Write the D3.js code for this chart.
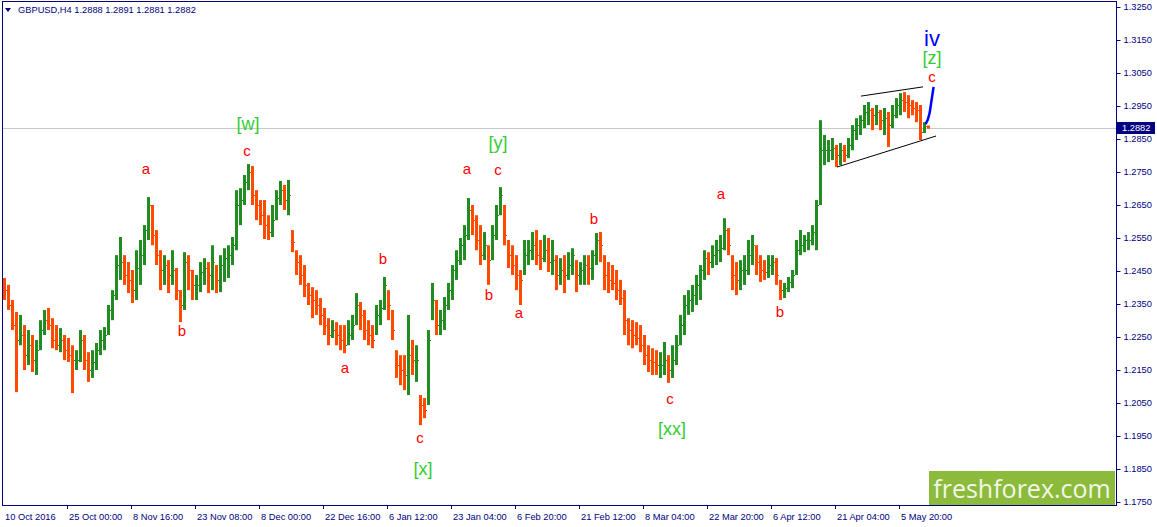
<!DOCTYPE html>
<html><head><meta charset="utf-8">
<script src="https://cdn.jsdelivr.net/npm/d3@7"></script>
<style>body{margin:0;background:#fff;overflow:hidden}svg{display:block}</style>
</head><body>
<script>
// ---- data (H4 bars aggregated 4 bars per point) ----
const highs=[1.2429,1.2408,1.2362,1.2326,1.2317,1.2286,1.2271,1.2256,1.2241,1.2301,
1.2332,1.2338,1.2307,1.2286,1.2277,1.2256,1.2247,1.2225,1.2210,1.2271,
1.2256,1.2204,1.2210,1.2232,1.2271,1.2280,1.2347,1.2392,1.2498,1.2553,
1.2498,1.2477,1.2453,1.2513,1.2544,1.2589,1.2674,1.2650,1.2574,1.2513,
1.2498,1.2483,1.2513,1.2459,1.2392,1.2507,1.2498,1.2453,1.2438,1.2477,
1.2489,1.2477,1.2528,1.2468,1.2498,1.2519,1.2528,1.2553,1.2695,1.2701,
1.2741,1.2774,1.2768,1.2695,1.2665,1.2665,1.2619,1.2650,1.2695,1.2723,
1.2711,1.2726,1.2574,1.2513,1.2498,1.2468,1.2414,1.2401,1.2392,1.2368,
1.2338,1.2307,1.2301,1.2295,1.2286,1.2286,1.2301,1.2317,1.2383,1.2356,
1.2332,1.2301,1.2286,1.2347,1.2362,1.2432,1.2392,1.2332,1.2210,1.2195,
1.2195,1.2317,1.2241,1.2225,1.2074,1.2065,1.2271,1.2414,1.2362,1.2332,
1.2371,1.2414,1.2468,1.2513,1.2550,1.2589,1.2671,1.2650,1.2619,1.2589,
1.2568,1.2528,1.2589,1.2650,1.2704,1.2650,1.2544,1.2528,1.2498,1.2453,
1.2544,1.2544,1.2568,1.2574,1.2544,1.2559,1.2550,1.2544,1.2498,1.2489,
1.2498,1.2507,1.2519,1.2483,1.2477,1.2498,1.2498,1.2513,1.2565,1.2568,
1.2498,1.2477,1.2468,1.2453,1.2423,1.2392,1.2307,1.2301,1.2295,1.2286,
1.2256,1.2225,1.2216,1.2210,1.2204,1.2235,1.2195,1.2225,1.2256,1.2317,
1.2377,1.2392,1.2408,1.2438,1.2468,1.2513,1.2507,1.2528,1.2544,1.2559,
1.2610,1.2580,1.2498,1.2477,1.2483,1.2498,1.2544,1.2559,1.2528,1.2498,
1.2483,1.2498,1.2498,1.2489,1.2423,1.2414,1.2432,1.2453,1.2544,1.2574,
1.2559,1.2568,1.2589,1.2665,1.2907,1.2862,1.2847,1.2853,1.2832,1.2838,
1.2832,1.2853,1.2892,1.2913,1.2922,1.2953,1.2962,1.2944,1.2953,1.2938,
1.2944,1.2932,1.2953,1.2974,1.2989,1.2992,1.2983,1.2968,1.2962,1.2953,
1.2901,1.2891];
const lows=[1.2362,1.2332,1.2271,1.2083,1.2225,1.2150,1.2165,1.2144,1.2135,1.2210,
1.2256,1.2271,1.2216,1.2210,1.2204,1.2180,1.2174,1.2080,1.2150,1.2174,
1.2150,1.2114,1.2126,1.2150,1.2195,1.2210,1.2256,1.2301,1.2362,1.2423,
1.2408,1.2383,1.2353,1.2362,1.2408,1.2468,1.2544,1.2528,1.2468,1.2392,
1.2408,1.2383,1.2408,1.2362,1.2295,1.2332,1.2392,1.2362,1.2362,1.2386,
1.2408,1.2383,1.2392,1.2383,1.2386,1.2417,1.2429,1.2468,1.2513,1.2589,
1.2650,1.2695,1.2650,1.2604,1.2589,1.2547,1.2544,1.2553,1.2604,1.2650,
1.2635,1.2619,1.2507,1.2438,1.2408,1.2371,1.2347,1.2307,1.2317,1.2286,
1.2256,1.2225,1.2247,1.2225,1.2210,1.2201,1.2225,1.2241,1.2286,1.2271,
1.2241,1.2225,1.2216,1.2256,1.2286,1.2332,1.2301,1.2241,1.2126,1.2104,
1.2089,1.2074,1.2135,1.2114,1.1983,1.2004,1.2044,1.2301,1.2256,1.2256,
1.2271,1.2332,1.2362,1.2423,1.2468,1.2483,1.2544,1.2559,1.2513,1.2468,
1.2483,1.2408,1.2483,1.2544,1.2619,1.2528,1.2459,1.2438,1.2392,1.2347,
1.2438,1.2468,1.2483,1.2468,1.2453,1.2477,1.2447,1.2438,1.2392,1.2408,
1.2383,1.2423,1.2438,1.2386,1.2408,1.2408,1.2408,1.2423,1.2468,1.2477,
1.2392,1.2383,1.2392,1.2362,1.2347,1.2256,1.2225,1.2216,1.2225,1.2204,
1.2165,1.2144,1.2135,1.2135,1.2126,1.2135,1.2111,1.2126,1.2165,1.2225,
1.2256,1.2317,1.2326,1.2347,1.2362,1.2423,1.2438,1.2459,1.2468,1.2477,
1.2513,1.2498,1.2392,1.2377,1.2392,1.2408,1.2438,1.2468,1.2438,1.2417,
1.2423,1.2429,1.2438,1.2408,1.2362,1.2368,1.2386,1.2398,1.2438,1.2498,
1.2507,1.2513,1.2528,1.2513,1.2650,1.2771,1.2780,1.2786,1.2765,1.2771,
1.2780,1.2792,1.2816,1.2847,1.2862,1.2883,1.2892,1.2877,1.2892,1.2877,
1.2862,1.2826,1.2883,1.2913,1.2922,1.2932,1.2913,1.2922,1.2901,1.2847,
1.2868,1.2881];
const closes=[1.2392,1.2347,1.2286,1.2241,1.2256,1.2195,1.2225,1.2180,1.2210,1.2271,
1.2301,1.2286,1.2241,1.2225,1.2241,1.2210,1.2195,1.2180,1.2180,1.2241,
1.2180,1.2150,1.2174,1.2210,1.2241,1.2256,1.2332,1.2377,1.2468,1.2477,
1.2438,1.2423,1.2392,1.2459,1.2498,1.2574,1.2650,1.2559,1.2498,1.2453,
1.2468,1.2438,1.2453,1.2392,1.2347,1.2477,1.2453,1.2408,1.2408,1.2447,
1.2459,1.2438,1.2477,1.2423,1.2468,1.2489,1.2498,1.2528,1.2650,1.2665,
1.2720,1.2750,1.2680,1.2650,1.2619,1.2589,1.2568,1.2604,1.2671,1.2695,
1.2665,1.2680,1.2538,1.2477,1.2438,1.2408,1.2377,1.2362,1.2347,1.2317,
1.2286,1.2256,1.2271,1.2256,1.2241,1.2225,1.2256,1.2286,1.2347,1.2317,
1.2271,1.2256,1.2241,1.2317,1.2338,1.2408,1.2347,1.2271,1.2165,1.2150,
1.2135,1.2195,1.2180,1.2180,1.2044,1.2029,1.2241,1.2362,1.2286,1.2301,
1.2347,1.2392,1.2453,1.2483,1.2528,1.2559,1.2635,1.2604,1.2544,1.2498,
1.2528,1.2483,1.2559,1.2619,1.2680,1.2559,1.2498,1.2468,1.2438,1.2423,
1.2498,1.2513,1.2528,1.2498,1.2489,1.2513,1.2477,1.2483,1.2438,1.2453,
1.2438,1.2468,1.2498,1.2438,1.2453,1.2468,1.2459,1.2498,1.2544,1.2528,
1.2438,1.2423,1.2414,1.2392,1.2368,1.2301,1.2271,1.2256,1.2247,1.2225,
1.2195,1.2180,1.2174,1.2165,1.2165,1.2180,1.2150,1.2180,1.2225,1.2286,
1.2347,1.2362,1.2377,1.2408,1.2453,1.2489,1.2477,1.2498,1.2513,1.2519,
1.2574,1.2528,1.2438,1.2423,1.2453,1.2453,1.2498,1.2528,1.2477,1.2453,
1.2447,1.2468,1.2477,1.2438,1.2392,1.2398,1.2417,1.2438,1.2513,1.2528,
1.2544,1.2544,1.2568,1.2650,1.2816,1.2816,1.2816,1.2823,1.2801,1.2816,
1.2801,1.2832,1.2877,1.2892,1.2907,1.2932,1.2938,1.2922,1.2932,1.2907,
1.2913,1.2892,1.2922,1.2953,1.2968,1.2962,1.2953,1.2944,1.2938,1.2871,
1.2888,1.2882];
const firstOpen=1.2420;
const barsPerPoint=4;
const dateLabels=["10 Oct 2016","25 Oct 00:00","8 Nov 16:00","23 Nov 08:00","8 Dec 00:00","22 Dec 16:00","6 Jan 12:00","23 Jan 04:00","6 Feb 20:00","21 Feb 12:00","8 Mar 04:00","22 Mar 20:00","6 Apr 12:00","21 Apr 04:00","5 May 20:00"];
const dateLabelEveryBars=64;
const priceTicks=[1.1750,1.1850,1.1950,1.2050,1.2150,1.2250,1.2350,1.2450,1.2550,1.2650,1.2750,1.2850,1.2950,1.3050,1.3150,1.3250];
const lastPrice=1.2882;
const title="GBPUSD,H4  1.2888 1.2891 1.2881 1.2882";
const waveLabels=[
 {t:"a",i:35.5,p:1.2762,k:"r"},{t:"[w]",i:61,p:1.2895,k:"g"},{t:"c",i:60.75,p:1.2816,k:"r"},
 {t:"b",i:44.5,p:1.2271,k:"r"},{t:"a",i:85.25,p:1.2159,k:"r"},{t:"b",i:94.75,p:1.2489,k:"r"},
 {t:"c",i:104,p:1.1944,k:"r"},{t:"[x]",i:104.75,p:1.1850,k:"g"},{t:"a",i:115.75,p:1.2762,k:"r"},
 {t:"[y]",i:123.5,p:1.2838,k:"g"},{t:"c",i:123.5,p:1.2759,k:"r"},{t:"b",i:121.25,p:1.2380,k:"r"},
 {t:"a",i:128.75,p:1.2323,k:"r"},{t:"b",i:147.5,p:1.2610,k:"r"},{t:"c",i:166.5,p:1.2065,k:"r"},
 {t:"[xx]",i:167,p:1.1971,k:"g"},{t:"a",i:179.25,p:1.2686,k:"r"},{t:"b",i:194,p:1.2326,k:"r"},
 {t:"iv",i:232,p:1.3156,k:"b"},{t:"[z]",i:232,p:1.3095,k:"g"},{t:"c",i:232,p:1.3038,k:"r"}];
const channelUpper=[[214.25,1.2980],[229.75,1.3008]];
const channelLower=[[208.25,1.2765],[233,1.2859]];
const projection=[[230.4,1.2895],[231.4,1.2929],[231.9,1.2968],[232.4,1.3008]];

// ---- drawing ----
const W=1157,H=527;
const svg=d3.select("body").append("svg").attr("width",W).attr("height",H);
const L=2,R=1116,T=1,B=505;
const xBar=d3.scaleLinear().domain([0,1113]).range([3,1116]);
const xP=i=>xBar(i*barsPerPoint+1);
const y=d3.scaleLinear().domain([1.1750,1.3250]).range([502,7]);
const navy="#000080";
const font="'Liberation Sans', Arial, sans-serif";

svg.append("defs").append("clipPath").attr("id","clip").append("rect")
 .attr("x",L+1).attr("y",T+1).attr("width",R-L-1).attr("height",B-T-1);

// current price line
svg.append("line").attr("x1",L).attr("x2",R).attr("y1",Math.round(y(lastPrice))+0.5).attr("y2",Math.round(y(lastPrice))+0.5)
 .attr("stroke","#c8c8c8").attr("stroke-width",1);

const up="#228b22",dn="#ff4a00";
const bars=svg.append("g").attr("clip-path","url(#clip)");
const N=highs.length;
for(let i=0;i<N;i++){
 const o=i===0?firstOpen:closes[i-1], c=closes[i];
 const col=c>=o?up:dn;
 const cx=Math.round(xP(i));
 const yh=y(highs[i]), yl=y(lows[i]);
 bars.append("rect").attr("x",cx-1).attr("y",yh).attr("width",3).attr("height",Math.max(1,yl-yh)).attr("fill",col);
 bars.append("rect").attr("x",cx-2).attr("y",Math.round(y(o))).attr("width",1).attr("height",1).attr("fill",col);
}

// channel
const line=d3.line().x(d=>xP(d[0])).y(d=>y(d[1]));
svg.append("path").attr("d",line(channelUpper)).attr("stroke","#000").attr("stroke-width",1).attr("fill","none");
svg.append("path").attr("d",line(channelLower)).attr("stroke","#000").attr("stroke-width",1).attr("fill","none");
svg.append("path").attr("d",d3.line().x(d=>xP(d[0])).y(d=>y(d[1])).curve(d3.curveMonotoneX)(projection))
 .attr("stroke","#0000ff").attr("stroke-width",2.5).attr("fill","none");

// wave labels
const lblStyle={r:{c:"#ff0000",s:15},g:{c:"#33cc33",s:18},b:{c:"#0000ff",s:22}};
svg.append("g").selectAll("text").data(waveLabels).join("text")
 .attr("x",d=>xP(d.i)).attr("y",d=>y(d.p)).attr("text-anchor","middle").attr("dominant-baseline","central")
 .attr("font-family",font).attr("font-size",d=>lblStyle[d.k].s).attr("fill",d=>lblStyle[d.k].c).text(d=>d.t);

// frame
svg.append("rect").attr("x",L+0.5).attr("y",T+0.5).attr("width",R-L).attr("height",B-T)
 .attr("fill","none").attr("stroke",navy).attr("stroke-width",1);

// right axis
const ra=svg.append("g").attr("transform",`translate(${R+0.5},0)`)
 .call(d3.axisRight(y).tickValues(priceTicks).tickFormat(d3.format(".4f")).tickSize(4).tickPadding(3));
ra.select(".domain").remove();
ra.selectAll("line").attr("stroke",navy);
ra.selectAll("text").attr("font-family",font).attr("font-size",9.3).attr("fill",navy);

// last price box
const ly=y(lastPrice);
svg.append("rect").attr("x",R+1).attr("y",Math.round(ly)-6).attr("width",38).attr("height",12).attr("fill",navy);
svg.append("text").attr("x",R+6).attr("y",ly).attr("dominant-baseline","central")
 .attr("font-family",font).attr("font-size",9.3).attr("fill","#fff").text(lastPrice.toFixed(4));

// bottom axis
const ticksIdx=d3.range(dateLabels.length);
const bx=svg.append("g");
bx.selectAll("line").data(ticksIdx.slice(1)).join("line")
 .attr("x1",d=>Math.round(xBar(d*dateLabelEveryBars))+0.5).attr("x2",d=>Math.round(xBar(d*dateLabelEveryBars))+0.5)
 .attr("y1",B).attr("y2",B+4).attr("stroke",navy);
bx.selectAll("text").data(ticksIdx).join("text")
 .attr("x",d=>xBar(d*dateLabelEveryBars)+2).attr("y",517).attr("dominant-baseline","central")
 .attr("font-family",font).attr("font-size",9.3).attr("fill",navy).text(d=>dateLabels[d]);

// title
svg.append("path").attr("d","M5,8 L11,8 L8,12 Z").attr("fill",navy);
svg.append("text").attr("x",18).attr("y",10).attr("dominant-baseline","central")
 .attr("font-family",font).attr("font-size",9.3).attr("fill",navy).text(title);

// logo
svg.append("rect").attr("x",929).attr("y",471).attr("width",186).attr("height",34).attr("fill","#8cbb3c");
svg.append("text").attr("x",1022).attr("y",488).attr("text-anchor","middle").attr("dominant-baseline","central")
 .attr("font-family","'Open Sans', sans-serif").attr("font-size",25).attr("fill","#f2f6e8").text("freshforex.com");
</script>
</body></html>
